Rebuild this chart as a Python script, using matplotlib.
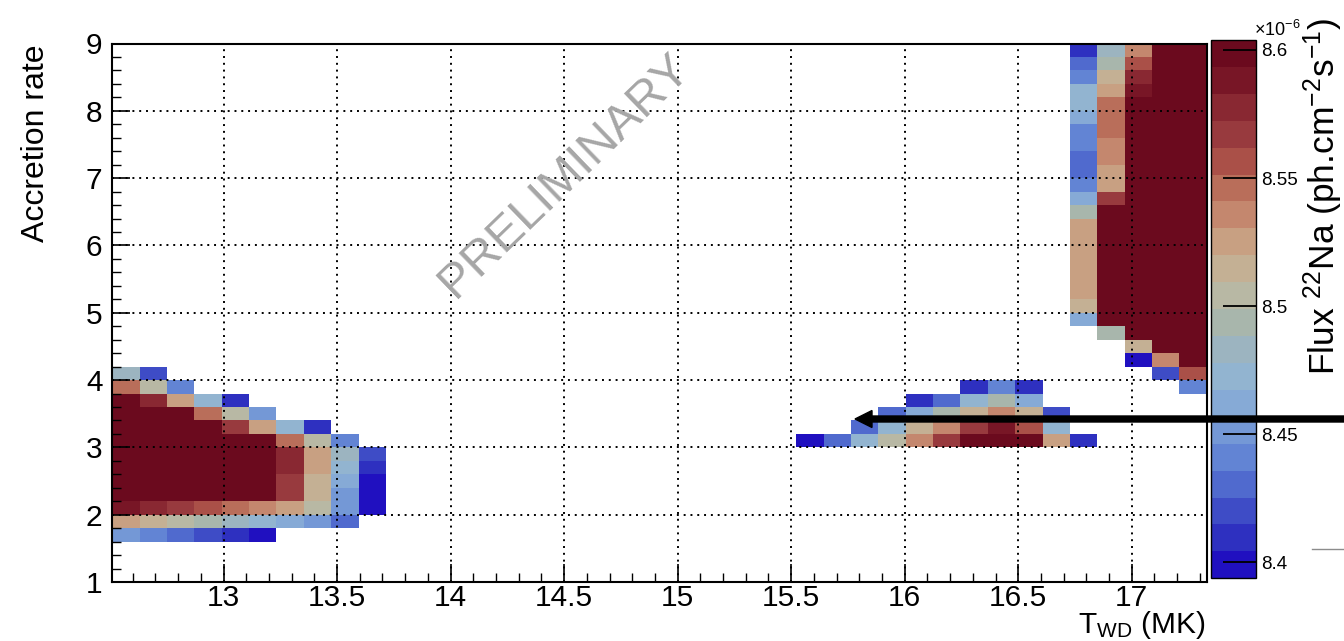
import numpy as np
import matplotlib
matplotlib.use("Agg")
import matplotlib.pyplot as plt
from matplotlib.colors import ListedColormap, BoundaryNorm
from matplotlib.ticker import MultipleLocator, FormatStrFormatter
from matplotlib.patches import FancyArrow
from matplotlib.lines import Line2D

plt.rcParams['font.family'] = ['Liberation Sans', 'DejaVu Sans']
plt.rcParams['mathtext.fontset'] = 'custom'
plt.rcParams['mathtext.rm'] = 'Liberation Sans'
plt.rcParams['mathtext.it'] = 'Liberation Sans:italic'
plt.rcParams['mathtext.bf'] = 'Liberation Sans:bold'

# ---- histogram binning -------------------------------------------------
# white-dwarf temperature T_WD (MK) and accretion rate
t_min, t_max, n_t = 12.51, 17.33, 40
acc_min, acc_max, n_acc = 1.0, 9.0, 40

# ---- flux scale (in units of 1e-6 ph cm^-2 s^-1) -----------------------
flux_min, flux_max = 8.3938, 8.6039
flux_ticks = [8.4, 8.45, 8.5, 8.55, 8.6]
palette = [
    "#2010c0", "#2e30c0", "#3e4cc6", "#506ace", "#6284d4",
    "#7498d6", "#86aad6", "#92b4d0", "#9cb4c0", "#a8b6ac",
    "#b8b8a4", "#c4b094", "#c8a082", "#c4876e", "#b96e5a",
    "#aa5048", "#983a3e", "#892832", "#781626", "#6b0a1e",
]

# ---- 22Na flux per cell ------------------------------------------------
# each entry: (accretion-rate bin lower edge, first T bin index, fluxes)
cool_branch = [
    (4.0, 0, [8.483, 8.420]),
    (3.8, 0, [8.546, 8.504, 8.441]),
    (3.6, 0, [8.600, 8.577, 8.525, 8.472, 8.409]),
    (3.4, 0, [8.600, 8.600, 8.600, 8.546, 8.504, 8.451]),
    (3.2, 0, [8.600, 8.600, 8.600, 8.600, 8.567, 8.525, 8.472, 8.409]),
    (3.0, 0, [8.600, 8.600, 8.600, 8.600, 8.600, 8.600, 8.546, 8.504, 8.441]),
    (2.8, 0, [8.600, 8.600, 8.600, 8.600, 8.600, 8.600, 8.577, 8.525, 8.483, 8.420]),
    (2.6, 0, [8.600, 8.600, 8.600, 8.600, 8.600, 8.600, 8.577, 8.525, 8.472, 8.409]),
    (2.4, 0, [8.600, 8.600, 8.600, 8.600, 8.600, 8.600, 8.567, 8.514, 8.462, 8.399]),
    (2.2, 0, [8.600, 8.600, 8.600, 8.600, 8.600, 8.600, 8.567, 8.514, 8.456, 8.399]),
    (2.0, 0, [8.588, 8.577, 8.567, 8.556, 8.546, 8.535, 8.525, 8.504, 8.456, 8.399]),
    (1.8, 0, [8.525, 8.514, 8.504, 8.493, 8.483, 8.472, 8.462, 8.451, 8.430]),
    (1.6, 0, [8.451, 8.441, 8.430, 8.420, 8.409, 8.399]),
]

mid_branch = [
    (3.8, 31, [8.409, 8.441, 8.409]),
    (3.6, 29, [8.409, 8.430, 8.472, 8.493, 8.462]),
    (3.4, 28, [8.430, 8.462, 8.493, 8.514, 8.535, 8.514, 8.420]),
    (3.2, 27, [8.430, 8.472, 8.514, 8.535, 8.567, 8.588, 8.556, 8.472]),
    (3.0, 25, [8.399, 8.430, 8.472, 8.504, 8.535, 8.567, 8.600, 8.600, 8.594,
               8.525, 8.409]),
]

hot_branch = [
    (8.8, 35, [8.409, 8.483, 8.535, 8.600, 8.600]),
    (8.6, 35, [8.430, 8.493, 8.556, 8.600, 8.600]),
    (8.4, 35, [8.441, 8.514, 8.577, 8.600, 8.600]),
    (8.2, 35, [8.472, 8.525, 8.588, 8.600, 8.600]),
    (8.0, 35, [8.472, 8.546, 8.600, 8.600, 8.600]),
    (7.8, 35, [8.462, 8.546, 8.600, 8.600, 8.600]),
    (7.6, 35, [8.441, 8.546, 8.600, 8.600, 8.600]),
    (7.4, 35, [8.441, 8.535, 8.600, 8.600, 8.600]),
    (7.2, 35, [8.430, 8.535, 8.600, 8.600, 8.600]),
    (7.0, 35, [8.430, 8.525, 8.600, 8.600, 8.600]),
    (6.8, 35, [8.441, 8.525, 8.600, 8.600, 8.600]),
    (6.6, 35, [8.462, 8.567, 8.600, 8.600, 8.600]),
    (6.4, 35, [8.493, 8.600, 8.600, 8.600, 8.600]),
    (6.2, 35, [8.525, 8.600, 8.600, 8.600, 8.600]),
    (6.0, 35, [8.525, 8.600, 8.600, 8.600, 8.600]),
    (5.8, 35, [8.525, 8.600, 8.600, 8.600, 8.600]),
    (5.6, 35, [8.525, 8.600, 8.600, 8.600, 8.600]),
    (5.4, 35, [8.525, 8.600, 8.600, 8.600, 8.600]),
    (5.2, 35, [8.525, 8.600, 8.600, 8.600, 8.600]),
    (5.0, 35, [8.514, 8.600, 8.600, 8.600, 8.600]),
    (4.8, 35, [8.467, 8.600, 8.600, 8.600, 8.600]),
    (4.6, 36, [8.493, 8.600, 8.600, 8.600]),
    (4.4, 37, [8.514, 8.600, 8.600]),
    (4.2, 37, [8.399, 8.535, 8.600]),
    (4.0, 38, [8.420, 8.556]),
    (3.8, 39, [8.441]),
]

# ---- assemble the 2D histogram ----------------------------------------
t_edges = np.linspace(t_min, t_max, n_t + 1)
acc_edges = np.linspace(acc_min, acc_max, n_acc + 1)
acc_step = (acc_max - acc_min) / n_acc

flux = np.full((n_acc, n_t), np.nan)
for branch in (cool_branch, mid_branch, hot_branch):
    for acc_lo, i0, vals in branch:
        j = int(round((acc_lo - acc_min) / acc_step))
        flux[j, i0:i0 + len(vals)] = vals
flux = np.ma.masked_invalid(flux)

cmap = ListedColormap(palette)
norm = BoundaryNorm(np.linspace(flux_min, flux_max, len(palette) + 1), cmap.N,
                    clip=True)

# ---- figure ----------------------------------------------------------
W, H = 1344, 641
fig = plt.figure(figsize=(W / 100, H / 100), dpi=100)
ax = fig.add_axes([112.3 / W, 1 - 582 / H, (1206.7 - 112.3) / W, (582 - 43.5) / H])
cax = fig.add_axes([1210.7 / W, 1 - 578.3 / H, 45 / W, (578.3 - 40) / H])

mesh = ax.pcolormesh(t_edges, acc_edges, flux, cmap=cmap, norm=norm,
                     shading='flat', edgecolors='none', linewidth=0,
                     antialiased=False)

ax.set_xlim(t_min, t_max)
ax.set_ylim(acc_min, acc_max)
ax.xaxis.set_major_locator(MultipleLocator(0.5))
ax.xaxis.set_minor_locator(MultipleLocator(0.1))
ax.yaxis.set_major_locator(MultipleLocator(1))
ax.yaxis.set_minor_locator(MultipleLocator(0.2))
ax.xaxis.set_major_formatter(FormatStrFormatter('%g'))
ax.yaxis.set_major_formatter(FormatStrFormatter('%g'))
ax.tick_params(which='major', direction='in', length=13, width=1.2,
               labelsize=21.5, colors='black')
ax.tick_params(which='minor', direction='in', length=6.5, width=1.0)
ax.tick_params(axis='x', which='major', pad=1.5)
ax.tick_params(axis='y', which='major', pad=7)
for sp in ax.spines.values():
    sp.set_linewidth(1.5)

ax.set_axisbelow(False)
ax.grid(True, which='major', color='black', linestyle=(0, (1, 2.5)),
        linewidth=1.4)

ax.text(14.5, 7.04, 'PRELIMINARY', rotation=44, rotation_mode='anchor',
        ha='center', va='center', fontsize=35, color='#a6a6a6', zorder=5)

# colour scale
cb = fig.colorbar(mesh, cax=cax, ticks=flux_ticks)
cb.ax.yaxis.set_major_formatter(FormatStrFormatter('%g'))
cb.ax.minorticks_off()
cb.ax.tick_params(direction='in', length=24, width=1.3, labelsize=13.5, pad=4,
                  right=True, left=False, colors='black')
cb.outline.set_linewidth(1.0)

# axis titles
fig.text(36 / W, 1 - 44 / H, 'Accretion rate', rotation=90, ha='center',
         va='top', fontsize=23)
fig.text(1205 / W, 1 - 633 / H, r'T$_{\mathrm{WD}}$ (MK)', ha='right',
         va='baseline', fontsize=21.5)
fig.text(1323 / W, 1 - 18 / H, r'Flux $^{22}$Na (ph.cm$^{-2}$s$^{-1}$)',
         rotation=90, ha='center', va='top', fontsize=25.5)
fig.text(1254 / W, 1 - 36 / H, r'×10$^{-6}$', ha='left', va='baseline',
         fontsize=13)

# pointer arrow towards the intermediate-temperature island
fig.add_artist(FancyArrow(W / 100, (H - 419) / 100, (855 - W) / 100, 0,
                          width=0.06, head_width=0.17, head_length=0.17,
                          length_includes_head=True, color='black',
                          transform=fig.dpi_scale_trans, clip_on=False,
                          zorder=10))
fig.add_artist(Line2D([1312 / 100, W / 100], [(H - 549) / 100] * 2,
                      transform=fig.dpi_scale_trans, color='#8c8c8c', lw=1.0))

fig.savefig('out.png', dpi=100)
